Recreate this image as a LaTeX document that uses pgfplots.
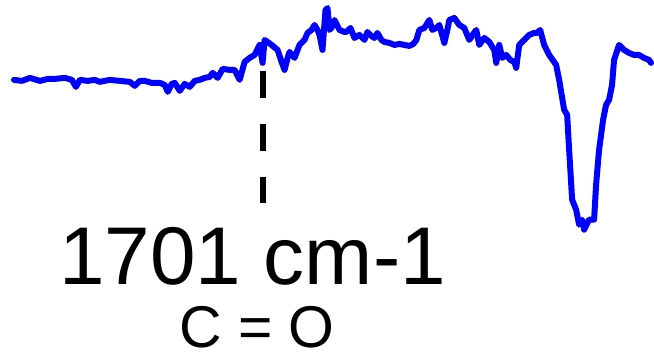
\documentclass[border=0pt]{standalone}
\usepackage{pgfplots}
\pgfplotsset{compat=1.18}
\usepackage{fontspec}
\setmainfont{Liberation Sans}
\begin{document}
\begin{tikzpicture}
\begin{axis}[
  scale only axis, width=654pt, height=358pt,
  xmin=0, xmax=654, ymin=0, ymax=358, y dir=reverse,
  hide axis, clip=false]
\path (axis cs:0,0) rectangle (axis cs:654,358);
\addplot[color={rgb,255:red,0;green,0;blue,255}, line width=6pt, line join=round, line cap=round] coordinates {
(14,80) (22,81) (30,78) (40,81) (48,79) (55,79) (65,78) (72,80) (76,87) (80,80)
(88,81) (95,80) (100,82) (110,80) (120,81) (130,82) (135,86) (140,81) (145,81) (152,83)
(160,83) (165,85) (168,92) (172,84) (175,83) (180,91) (185,84) (190,87) (195,81) (200,80)
(205,78) (210,77) (213,73) (218,78) (223,69) (230,70) (235,70) (240,80) (245,62) (250,58)
(255,55) (260,45) (263,63) (265,40) (268,42) (272,45) (278,50) (282,62) (285,70) (288,58)
(290,52) (295,58) (298,50) (300,45) (305,40) (308,33) (312,30) (315,25) (318,30) (320,35)
(323,50) (326,10) (328,8) (330,30) (332,28) (335,20) (340,30) (345,32) (347,32) (351,28)
(355,38) (360,35) (365,40) (368,32) (372,36) (375,38) (378,33) (382,40) (385,42) (390,43)
(395,45) (400,44) (405,45) (410,46) (414,44) (417,40) (420,30) (425,28) (430,20) (433,30)
(437,28) (440,25) (445,43) (448,30) (450,20) (455,18) (460,25) (465,28) (470,40) (474,34)
(477,30) (480,45) (485,38) (490,42) (495,50) (497,63) (500,45) (503,58) (507,55) (511,60)
(515,62) (517,68) (520,45) (525,40) (530,35) (535,33) (538,33) (541,30) (545,45) (550,55)
(557,65) (560,80) (565,110) (568,115) (570,150) (573,200) (577,210) (580,225) (583,220) (585,230)
(590,220) (595,220) (597,185) (600,150) (604,120) (607,105) (610,100) (613,85) (615,60) (620,45)
(625,50) (630,53) (635,55) (640,55) (645,58) (650,60) (652,63)
};
\addplot[black, line width=6pt, dash pattern=on 27pt off 26pt] coordinates {(263,71) (263,203)};
\node[anchor=base, inner sep=0pt, font=\fontsize{82}{88}\selectfont] at (axis cs:253,285) {1701 cm-1};
\node[anchor=base, inner sep=0pt, text depth=0pt, font=\fontsize{59}{64}\selectfont] at (axis cs:257.5,348) {C = O};
\end{axis}
\end{tikzpicture}
\end{document}
